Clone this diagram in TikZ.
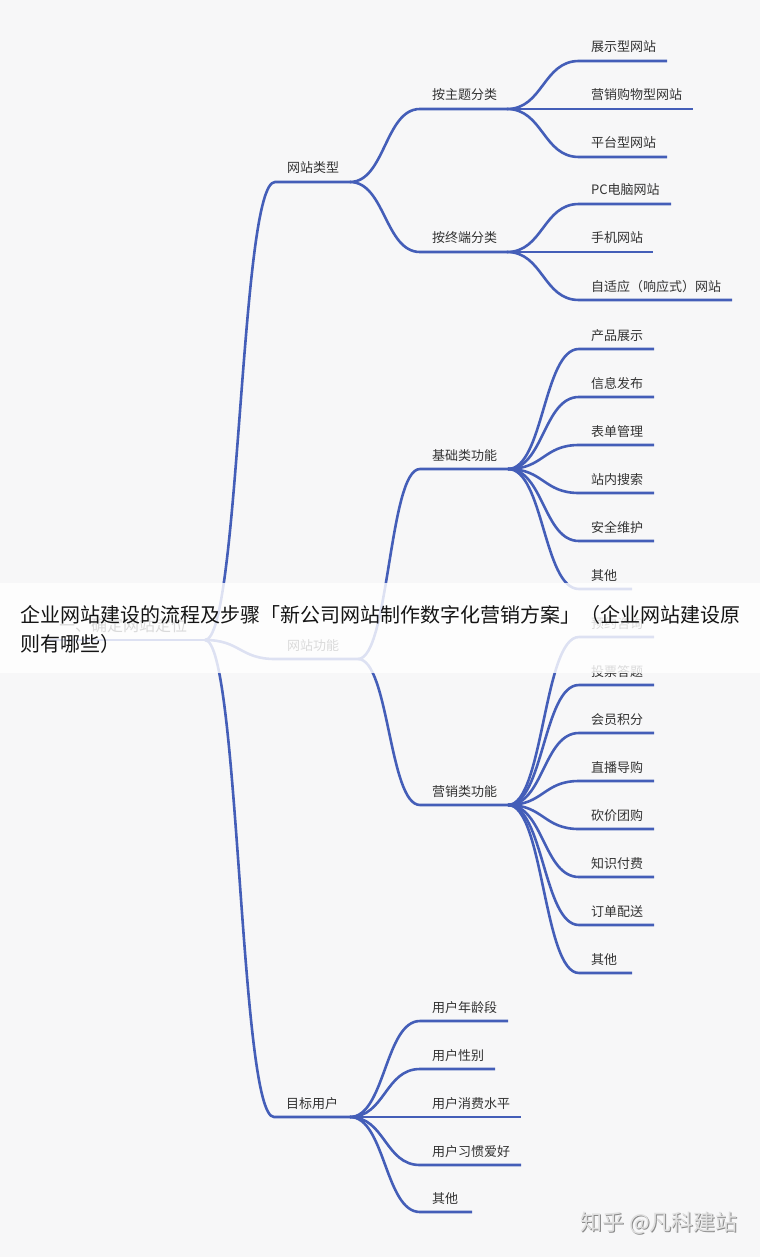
\documentclass[tikz,border=0pt]{standalone}
\usepackage{fontspec}
\setmainfont{Noto Sans CJK SC}
\usetikzlibrary{calc}
\definecolor{bg}{RGB}{247,247,248}
\definecolor{mmblue}{RGB}{68,94,184}
\definecolor{mmtext}{RGB}{51,51,51}
\definecolor{ttext}{RGB}{20,20,20}
\tikzset{
  lbl/.style={inner sep=0pt,text=mmtext},
  link/.style={draw=mmblue,line width=2.6pt},
  ttl/.style={inner sep=0pt,text=ttext,font=\fontsize{20}{20}\selectfont},
  wm/.style={inner sep=0pt,font=\fontsize{22}{22}\selectfont}
}
\newcommand\mmtopic[6]{%
  \coordinate (#1s) at (#2,#4);
  \coordinate (#1e) at (#3,#4);
  \node[lbl,font=\fontsize{#6}{#6}\selectfont,anchor=base west] (#1) at (#2+12,#4-9) {#5};}
\newcommand\mmlink[2]{\draw[link] let \p1=(#1e), \p2=(#2s), \n1={0.5*(\x2-\x1)} in
  (\p1) .. controls +(\n1,0) and +(-\n1,0) .. (\p2) -- (#2e);}
\begin{document}
\begin{tikzpicture}[x=1pt,y=-1pt]
\useasboundingbox (0,0) rectangle (760,1257);
\fill[bg] (0,0) rectangle (760,1257);
% root
\mmtopic{root}{47}{205}{640}{一、确定网站定位}{16}
\draw[link] (roots) -- (roote);
% level 1
\mmtopic{type}{275}{350}{182}{网站类型}{13}
\mmtopic{func}{275}{358}{659}{网站功能}{13}
\mmtopic{user}{274}{350}{1117}{目标用户}{13}
% level 2
\mmtopic{theme}{420}{507}{109}{按主题分类}{13}
\mmtopic{term}{420}{507}{252}{按终端分类}{13}
\mmtopic{basic}{420}{508}{469}{基础类功能}{13}
\mmtopic{mkt}{420}{508}{805}{营销类功能}{13}
\mmtopic{ua}{420}{508}{1021}{用户年龄段}{13}
\mmtopic{ub}{420}{495}{1069}{用户性别}{13}
\mmtopic{uc}{420}{521}{1117}{用户消费水平}{13}
\mmtopic{ud}{420}{521}{1165}{用户习惯爱好}{13}
\mmtopic{ue}{420}{472}{1212}{其他}{13}
% leaves: theme
\mmtopic{ta}{579}{667}{61}{展示型网站}{13}
\mmtopic{tb}{579}{693}{109}{营销购物型网站}{13}
\mmtopic{tc}{579}{667}{157}{平台型网站}{13}
% leaves: terminal
\mmtopic{da}{579}{671}{204}{PC电脑网站}{13}
\mmtopic{db}{579}{653}{252}{手机网站}{13}
\mmtopic{dc}{579}{732}{300}{自适应（响应式）网站}{13}
% leaves: basic
\mmtopic{ba}{579}{654}{349}{产品展示}{13}
\mmtopic{bb}{579}{654}{397}{信息发布}{13}
\mmtopic{bc}{579}{654}{445}{表单管理}{13}
\mmtopic{bd}{579}{654}{493}{站内搜索}{13}
\mmtopic{be}{579}{654}{541}{安全维护}{13}
\mmtopic{bf}{579}{632}{589}{其他}{13}
% leaves: marketing
\mmtopic{ma}{579}{654}{637}{预约咨询}{13}
\mmtopic{mb}{579}{654}{685}{投票答题}{13}
\mmtopic{mc}{579}{654}{733}{会员积分}{13}
\mmtopic{md}{579}{654}{781}{直播导购}{13}
\mmtopic{me}{579}{654}{829}{砍价团购}{13}
\mmtopic{mf}{579}{654}{877}{知识付费}{13}
\mmtopic{mg}{579}{654}{925}{订单配送}{13}
\mmtopic{mh}{579}{632}{973}{其他}{13}
% links
\mmlink{root}{type}
\mmlink{root}{func}
\mmlink{root}{user}
\mmlink{type}{theme}
\mmlink{type}{term}
\mmlink{func}{basic}
\mmlink{func}{mkt}
\mmlink{user}{ua}
\mmlink{user}{ub}
\mmlink{user}{uc}
\mmlink{user}{ud}
\mmlink{user}{ue}
\mmlink{theme}{ta}
\mmlink{theme}{tb}
\mmlink{theme}{tc}
\mmlink{term}{da}
\mmlink{term}{db}
\mmlink{term}{dc}
\mmlink{basic}{ba}
\mmlink{basic}{bb}
\mmlink{basic}{bc}
\mmlink{basic}{bd}
\mmlink{basic}{be}
\mmlink{basic}{bf}
\mmlink{mkt}{ma}
\mmlink{mkt}{mb}
\mmlink{mkt}{mc}
\mmlink{mkt}{md}
\mmlink{mkt}{me}
\mmlink{mkt}{mf}
\mmlink{mkt}{mg}
\mmlink{mkt}{mh}
% banner
\fill[white,opacity=0.82] (0,583) rectangle (760,673);
\node[ttl,anchor=base west] (title1) at (20,622) {企业网站建设的流程及步骤「新公司网站制作数字化营销方案」（企业网站建设原};
\node[ttl,anchor=base west] (title2) at (20,651) {则有哪些）};
% watermark
\node[wm,anchor=base west,text=black!45] (wmshadow) at (581,1231) {知乎 @凡科建站};
\node[wm,anchor=base west,text=white!88!black] (wmark) at (580,1230) {知乎 @凡科建站};
\end{tikzpicture}
\end{document}
